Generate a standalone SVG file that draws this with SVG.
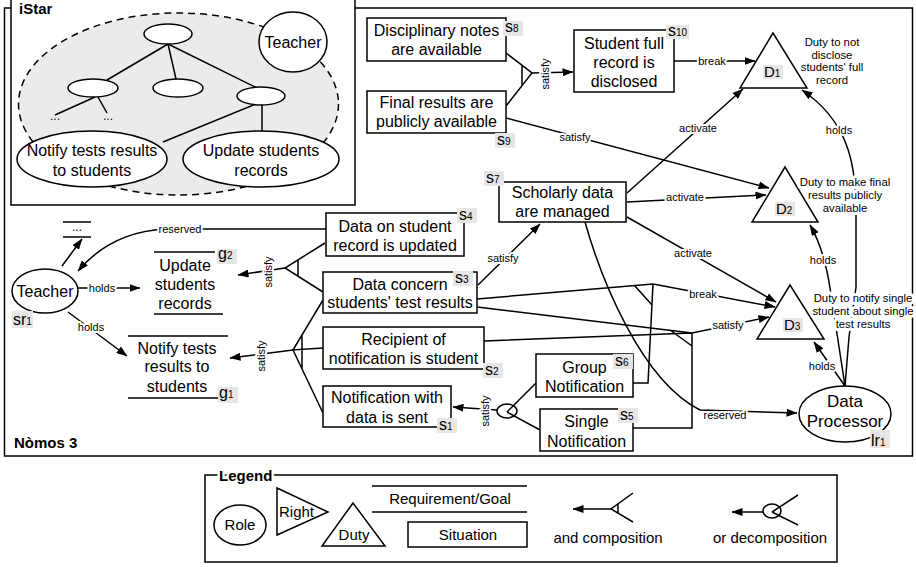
<svg xmlns="http://www.w3.org/2000/svg" width="916" height="567" viewBox="0 0 916 567">
<defs>
<marker id="ar" viewBox="0 0 11 8" refX="10.5" refY="4" markerWidth="11" markerHeight="8" orient="auto" markerUnits="userSpaceOnUse"><path d="M0,0 L11,4 L0,8 z" fill="#000"/></marker>
<style>
text{font-family:"Liberation Sans",Arial,Helvetica,sans-serif;fill:#000}
.t{font-size:16px;text-anchor:middle}
.box{fill:#fff;stroke:#000;stroke-width:1.5}
.ln{fill:none;stroke:#000;stroke-width:1.5}
.arr{fill:none;stroke:#000;stroke-width:1.5;marker-end:url(#ar)}
.lbl{font-size:11px;text-anchor:middle;paint-order:stroke;stroke:#fff;stroke-width:4px;stroke-linejoin:round}
.duty{font-size:11.3px;text-anchor:middle;paint-order:stroke;stroke:#fff;stroke-width:6px;stroke-linejoin:round}
.tag rect{fill:#e6e6e6}
.tag text{font-size:16px}
.sub{font-size:10px}
.b{font-weight:bold;font-size:15px}
.lg{font-size:15px;text-anchor:middle}
</style>
</defs>
<rect width="916" height="567" fill="#fff"/>
<!-- Nomos frame -->
<rect class="ln" x="4.5" y="8" width="908" height="448"/>
<text class="b" x="14" y="448">Nòmos 3</text>

<!-- iStar -->
<g id="istar">
<rect class="box" x="11" y="-2" width="344" height="207"/>
<text class="b" x="19" y="14">iStar</text>
<ellipse cx="178.5" cy="104" rx="160" ry="91" fill="#ebebeb" stroke="#000" stroke-width="1.5" stroke-dasharray="7,5"/>
<path class="ln" d="M168,44 L107,80 M168,44 L176,79 M168,44 L257,88 M95,97 L55,115 M98,97 L107,113 M262,105 L262,131 M256,104 L163,142"/>
<ellipse class="box" cx="168" cy="34" rx="24" ry="10"/>
<ellipse class="box" cx="93" cy="88" rx="25" ry="9"/>
<ellipse class="box" cx="178" cy="88" rx="25" ry="9"/>
<ellipse class="box" cx="261" cy="96" rx="24" ry="9"/>
<text x="55" y="120" font-size="12" text-anchor="middle">...</text>
<text x="108" y="120" font-size="12" text-anchor="middle">...</text>
<ellipse class="box" cx="293" cy="42" rx="34" ry="30"/>
<text class="t" x="293" y="48">Teacher</text>
<ellipse class="box" cx="92" cy="159" rx="75" ry="28"/>
<text class="t" x="92" y="156">Notify tests results</text>
<text class="t" x="92" y="176">to students</text>
<ellipse class="box" cx="261" cy="159" rx="78" ry="28"/>
<text class="t" x="261" y="156">Update students</text>
<text class="t" x="261" y="176">records</text>
</g>

<!-- connectors -->
<g id="connectors">
<path class="ln" d="M506,53 L532,73 L506,106 M522,65 L522,85"/>
<path class="arr" d="M532,73 L573,72"/>
<text class="lbl" transform="translate(545,74) rotate(-90)" y="4">satisfy</text>

<path class="arr" d="M674,61 L755,61"/>
<text class="lbl" x="712" y="65">break</text>

<path class="arr" d="M506,118 L769,188"/>
<text class="lbl" x="575" y="141">satisfy</text>

<path class="arr" d="M627,193 L743,89"/>
<text class="lbl" x="698" y="132">activate</text>
<path class="arr" d="M627,202 L766,195"/>
<text class="lbl" x="685" y="201">activate</text>
<path class="arr" d="M627,217 L776,302"/>
<text class="lbl" x="693" y="257">activate</text>

<path class="arr" d="M478,285 L540,224"/>
<text class="lbl" x="503" y="262">satisfy</text>

<path class="ln" d="M477,299 L653,284 M633,383 L648,383 L653,284 M635,286 L652,305"/>
<path class="ln" d="M477,307 L692,333 M484,341 L692,333 M633,428 L692,428 L692,333 M670,330 L692,346"/>

<path class="arr" d="M585,222 C600,275 640,380 700,410 L797,413"/>
<text class="lbl" x="725" y="419">reserved</text>

<path class="arr" d="M653,284 L775,307"/>
<text class="lbl" x="703" y="298">break</text>
<path class="arr" d="M692,333 L769,317"/>
<text class="lbl" x="728" y="329">satisfy</text>

<path class="arr" d="M326,229 L165,229 C130,231 100,245 78,271"/>
<text class="lbl" x="180" y="233">reserved</text>
<path class="arr" d="M62,266 L82,239"/>
<path class="arr" d="M78,288 L140,288"/>
<text class="lbl" x="102" y="292">holds</text>
<path class="arr" d="M68,312 L127,356"/>
<text class="lbl" x="91" y="331">holds</text>

<path class="ln" d="M325,243 L285,268 L323,292 M298,260 L298,276"/>
<path class="arr" d="M285,268 L238,275"/>
<text class="lbl" transform="translate(268,272) rotate(-90)" y="4">satisfy</text>

<path class="ln" d="M323,300 L293,350 L323,348 M293,350 L323,413 M302,335 L302,369"/>
<path class="arr" d="M293,350 L230,358"/>
<text class="lbl" transform="translate(261,356) rotate(-90)" y="4">satisfy</text>

<ellipse class="ln" cx="507" cy="411" rx="10" ry="7"/>
<path class="ln" d="M507,412 L536,383 M507,412 L540,430"/>
<path class="arr" d="M497,410 L453,407"/>
<text class="lbl" transform="translate(485,411) rotate(-90)" y="4">satisfy</text>

<path class="arr" d="M845,386 L814,342"/>
<text class="lbl" x="822" y="370">holds</text>
<path class="arr" d="M845,386 L830,288 C826,262 820,242 810,225"/>
<text class="lbl" x="823" y="264">holds</text>
<path class="arr" d="M845,386 L849,337 L856,287 L856,210 C856,160 846,120 802,90"/>
<text class="lbl" x="839" y="134">holds</text>
</g>

<!-- situations -->
<g id="s8"><rect class="box" x="367" y="18" width="139" height="43"/><text class="t" x="436.5" y="36">Disciplinary notes</text><text class="t" x="436.5" y="55">are available</text>
<g class="tag"><rect x="503" y="21" width="20" height="15"/><text x="505" y="32">s<tspan class="sub">8</tspan></text></g></g>
<g id="s9"><rect class="box" x="367" y="91" width="139" height="42"/><text class="t" x="436.5" y="108">Final results are</text><text class="t" x="436.5" y="127">publicly available</text>
<g class="tag"><rect x="495" y="133" width="20" height="15"/><text x="497" y="145">s<tspan class="sub">9</tspan></text></g></g>
<g id="s10"><rect class="box" x="574" y="30" width="100" height="62"/><text class="t" x="624" y="49">Student full</text><text class="t" x="624" y="68">record is</text><text class="t" x="624" y="87">disclosed</text>
<g class="tag"><rect x="666" y="25" width="23" height="14"/><text x="668" y="36">s<tspan class="sub">10</tspan></text></g></g>
<g id="s7"><rect class="box" x="499" y="182" width="127" height="40"/><text class="t" x="562.5" y="198">Scholarly data</text><text class="t" x="562.5" y="217">are managed</text>
<g class="tag"><rect x="484" y="171" width="20" height="15"/><text x="486" y="183">s<tspan class="sub">7</tspan></text></g></g>
<g id="s4"><rect class="box" x="326" y="213" width="138" height="43"/><text class="t" x="395" y="232">Data on student</text><text class="t" x="395" y="251">record is updated</text>
<g class="tag"><rect x="457" y="208" width="20" height="15"/><text x="459" y="220">s<tspan class="sub">4</tspan></text></g></g>
<g id="s3"><rect class="box" x="323" y="272" width="154" height="41"/><text class="t" x="400" y="290">Data concern</text><text class="t" x="400" y="308">students' test results</text>
<g class="tag"><rect x="453" y="271" width="20" height="15"/><text x="455" y="283">s<tspan class="sub">3</tspan></text></g></g>
<g id="s2"><rect class="box" x="323" y="327" width="161" height="42"/><text class="t" x="403.5" y="345">Recipient of</text><text class="t" x="403.5" y="364">notification is student</text>
<g class="tag"><rect x="483" y="363" width="20" height="15"/><text x="485" y="375">s<tspan class="sub">2</tspan></text></g></g>
<g id="s1"><rect class="box" x="323" y="386" width="128" height="41"/><text class="t" x="387" y="403">Notification with</text><text class="t" x="387" y="423">data is sent</text>
<g class="tag"><rect x="437" y="418" width="20" height="15"/><text x="439" y="430">s<tspan class="sub">1</tspan></text></g></g>
<g id="s6"><rect class="box" x="536" y="354" width="97" height="43"/><text class="t" x="584.5" y="373">Group</text><text class="t" x="584.5" y="392">Notification</text>
<g class="tag"><rect x="613" y="354" width="20" height="15"/><text x="615" y="366">s<tspan class="sub">6</tspan></text></g></g>
<g id="s5"><rect class="box" x="540" y="409" width="93" height="42"/><text class="t" x="586.5" y="427">Single</text><text class="t" x="586.5" y="447">Notification</text>
<g class="tag"><rect x="618" y="408" width="20" height="15"/><text x="620" y="420">s<tspan class="sub">5</tspan></text></g></g>

<!-- duties -->
<g id="d1"><polygon class="box" points="773,33 740,88 807,88"/>
<g class="tag"><rect x="763" y="65" width="20" height="14"/><text x="764" y="77" style="font-size:15px">D<tspan class="sub">1</tspan></text></g>
<text class="duty" x="832" y="46">Duty to not</text><text class="duty" x="832" y="59">disclose</text><text class="duty" x="832" y="71">students' full</text><text class="duty" x="832" y="84">record</text></g>
<g id="d2"><polygon class="box" points="785,167 752,222 818,222"/>
<g class="tag"><rect x="775" y="202" width="20" height="14"/><text x="776" y="214" style="font-size:15px">D<tspan class="sub">2</tspan></text></g>
<text class="duty" x="845" y="186">Duty to make final</text><text class="duty" x="845" y="199">results publicly</text><text class="duty" x="845" y="212">available</text></g>
<g id="d3"><polygon class="box" points="790,285 757,339 824,339"/>
<g class="tag"><rect x="783" y="318" width="20" height="14"/><text x="784" y="330" style="font-size:15px">D<tspan class="sub">3</tspan></text></g>
<text class="duty" x="863" y="302">Duty to notify single</text><text class="duty" x="863" y="315">student about single</text><text class="duty" x="863" y="328">test results</text></g>

<!-- roles and goals -->
<g id="teacher"><ellipse class="box" cx="45" cy="291" rx="33" ry="22"/><text class="t" x="45" y="297">Teacher</text>
<g class="tag"><rect x="12" y="311" width="21" height="17"/><text x="13" y="325">sr<tspan class="sub">1</tspan></text></g></g>
<g id="dots"><path class="ln" d="M63,222 L91,222 M63,237 L91,237"/><text x="77" y="231" font-size="12" text-anchor="middle">...</text></g>
<g id="dp"><ellipse class="box" cx="845" cy="414" rx="46" ry="28"/><text class="t" x="845" y="407" style="font-size:17px">Data</text><text class="t" x="845" y="427" style="font-size:17px">Processor</text>
<g class="tag"><rect x="870" y="430" width="20" height="18"/><text x="871" y="446">lr<tspan class="sub">1</tspan></text></g></g>
<g id="g2"><path class="ln" d="M154,252 L215,252 M154,314 L223,314"/><text class="t" x="185" y="271">Update</text><text class="t" x="185" y="290">students</text><text class="t" x="185" y="309">records</text>
<g class="tag"><rect x="217" y="249" width="20" height="15"/><text x="218" y="259">g<tspan class="sub">2</tspan></text></g></g>
<g id="g1"><path class="ln" d="M128,336 L228,336 M128,398 L218,398"/><text class="t" x="177" y="354">Notify tests</text><text class="t" x="177" y="372">results to</text><text class="t" x="177" y="392">students</text>
<g class="tag"><rect x="218" y="387" width="20" height="16"/><text x="219" y="398">g<tspan class="sub">1</tspan></text></g></g>

<!-- legend -->
<g id="legend">
<rect class="box" x="205" y="475" width="632" height="87"/>
<text class="b" x="219" y="481" style="paint-order:stroke;stroke:#fff;stroke-width:5px">Legend</text>
<ellipse class="box" cx="240" cy="525" rx="26" ry="20"/><text class="lg" x="240" y="530">Role</text>
<polygon class="box" points="277,488 277,535 328,512"/><text x="279" y="517" style="font-size:15px">Right</text>
<polygon class="box" points="353,503 322,546 385,546"/><text class="lg" x="354" y="540">Duty</text>
<path class="ln" d="M372,486 L527,486 M372,512 L527,512"/><text class="lg" x="450" y="504">Requirement/Goal</text>
<rect class="box" x="408" y="522" width="119" height="25"/><text class="lg" x="468" y="540">Situation</text>
<path class="arr" d="M611,509 L573,509"/><path class="ln" d="M633,493 L611,509 L633,522 M618,504 L618,514"/>
<text class="lg" x="608" y="543">and composition</text>
<path class="arr" d="M763,512 L732,512"/><ellipse class="ln" cx="772" cy="511" rx="9" ry="7"/><path class="ln" d="M772,512 L798,495 M772,512 L798,525"/>
<text class="lg" x="770" y="543">or decomposition</text>
</g>
</svg>
